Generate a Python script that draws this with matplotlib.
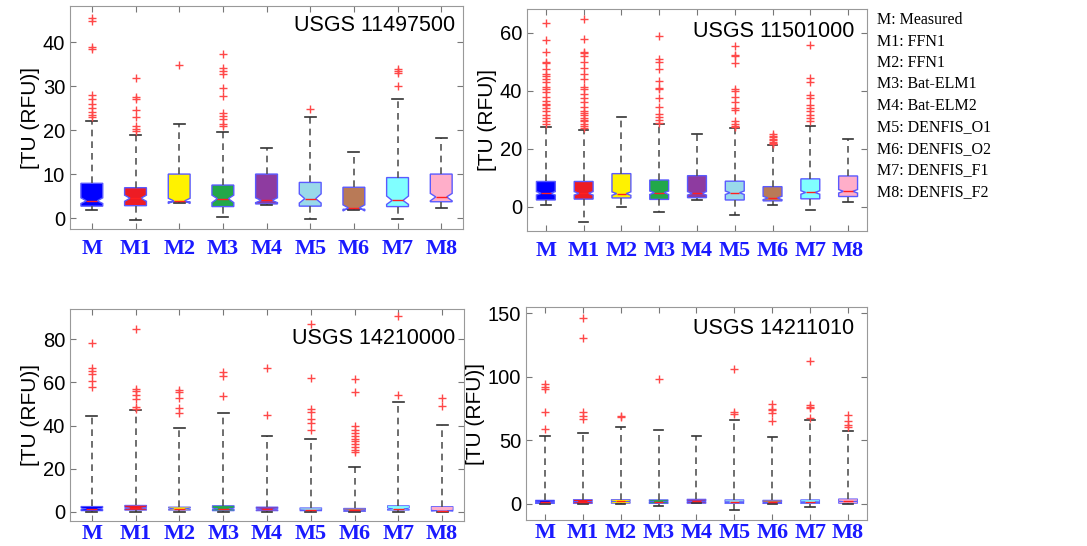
import matplotlib
matplotlib.use("Agg")
import matplotlib.pyplot as plt

# categories and styling
labels = ["M", "M1", "M2", "M3", "M4", "M5", "M6", "M7", "M8"]
box_colors = ["#0000ff", "#ed1c24", "#fff200", "#22a84a", "#8e3ba0",
              "#99d9ea", "#b97a57", "#80ffff", "#ffaec9"]
legend_lines = ["M: Measured", "M1: FFN1", "M2: FFN1", "M3: Bat-ELM1", "M4: Bat-ELM2",
                "M5: DENFIS_O1", "M6: DENFIS_O2", "M7: DENFIS_F1", "M8: DENFIS_F2"]
stations = ["USGS 11497500", "USGS 11501000", "USGS 14210000", "USGS 14211010"]

# ---- USGS 11497500 ----
p1_q1 = [2.7, 2.8, 3.7, 2.6, 3.2, 2.7, 2.0, 2.6, 3.7]
p1_med = [3.9, 4.5, 3.9, 4.4, 4.0, 4.4, 2.3, 4.0, 4.8]
p1_q3 = [7.9, 6.9, 10.0, 7.5, 10.0, 8.1, 7.0, 9.2, 10.0]
p1_lo = [1.8, -0.5, 3.5, 0.3, 3.0, -0.3, 1.9, -0.3, 2.2]
p1_hi = [22, 19, 21.3, 19.5, 16, 23, 15, 27, 18.3]
p1_cilo = [3.3, 3.8, 3.3, 3.5, 3.5, 3.4, 1.6, 3.1, 3.9]
p1_cihi = [4.6, 5.2, 4.5, 5.2, 4.6, 5.5, 3.0, 5.0, 5.6]
p1_fliers = [
    [23, 23.5, 24.2, 25, 26, 27, 28, 38.5, 39, 44.8, 45.5],
    [19.8, 20.2, 21, 23, 24.5, 27, 27.5, 31.8],
    [34.8],
    [21, 21.5, 22.5, 23.3, 23.8, 27.7, 29.7, 32.8, 33.5, 34.2, 37.3],
    [],
    [24.8],
    [],
    [30, 33, 33.5, 34],
    [],
]

# ---- USGS 11501000 ----
p2_q1 = [2.3, 2.6, 3.0, 2.5, 3.1, 2.3, 2.0, 2.7, 3.5]
p2_med = [4.6, 4.6, 4.5, 4.8, 4.6, 4.8, 3.0, 4.9, 5.3]
p2_q3 = [8.7, 8.7, 11.4, 9.2, 10.7, 8.8, 6.9, 9.6, 10.6]
p2_lo = [0.7, -5.2, 0.0, -2.0, 2.2, -3.0, 0.7, -1.0, 1.5]
p2_hi = [27.5, 26.5, 31, 28.5, 25, 27, 21.2, 28, 23.2]
p2_cilo = [4.0, 4.0, 3.9, 4.2, 4.0, 4.2, 2.4, 4.3, 4.7]
p2_cihi = [5.2, 5.2, 5.1, 5.4, 5.2, 5.4, 3.6, 5.5, 5.9]
p2_fliers = [
    [28.5, 29.5, 30.5, 31.5, 33, 34, 35, 35.5, 36.5, 38, 39.5, 40.5, 41.5, 43, 44,
     45, 46, 47.5, 49.5, 50, 53.5, 57.5, 63.5],
    [27, 28, 28.5, 29.5, 30, 30.5, 31.5, 32.5, 33, 34.5, 36, 37.5, 39, 40.5, 41.5,
     44, 46, 48, 50, 52, 53, 53.5, 58, 65],
    [],
    [29, 30, 31, 32, 34.5, 37.5, 40.5, 41, 43.5, 47.5, 50, 51, 59],
    [],
    [27.5, 28, 28.5, 29.5, 33.5, 34, 36, 38, 40, 40.5, 49.5, 52, 52.5, 55.5],
    [21.5, 22, 22.5, 23, 23.5, 24, 24.5, 25],
    [29.5, 30.5, 31.5, 33, 34, 35, 37.5, 38.5, 43, 44.5, 56],
    [],
]

# ---- USGS 14210000 ----
p3_q1 = [0.5, 0.8, 0.8, 0.5, 0.5, 0.5, 0.2, 0.8, 0.5]
p3_med = [1.5, 1.8, 1.5, 1.5, 1.3, 0.8, 0.8, 1.5, 0.6]
p3_q3 = [2.6, 3.1, 2.3, 2.9, 2.3, 1.9, 1.7, 2.9, 2.5]
p3_lo = [0.0, 0.0, 0.0, 0.0, 0.0, 0.0, 0.0, 0.0, 0.0]
p3_hi = [44.3, 47.2, 38.9, 45.7, 35.4, 33.8, 21, 51, 40.3]
p3_cilo = [1.2, 1.5, 1.2, 1.2, 1.0, 0.6, 0.6, 1.2, 0.4]
p3_cihi = [1.8, 2.1, 1.8, 1.8, 1.6, 1.0, 1.0, 1.8, 0.8]
p3_fliers = [
    [58, 60.8, 63.8, 65.4, 66.6, 78.2],
    [47.7, 48.5, 52.3, 54.2, 56.2, 57, 84.6],
    [45.8, 48, 52.6, 55.7, 56.5],
    [53.8, 63, 65],
    [45, 66.6],
    [38, 41.2, 43, 46.5, 47.7, 62.3, 86.9],
    [27.7, 28.9, 30, 31.5, 32.8, 33.8, 35.1, 36.6, 38.2, 39.7, 55.7, 61.8],
    [54.2, 91],
    [49.2, 52.6],
]

# ---- USGS 14211010 ----
p4_q1 = [0.3, 0.3, 0.5, 0.3, 0.5, 0.3, 0.3, 0.3, 0.5]
p4_med = [1.5, 1.8, 2.0, 1.8, 2.0, 1.5, 1.2, 1.5, 2.0]
p4_q3 = [3.0, 3.5, 3.5, 3.3, 3.8, 3.3, 3.0, 3.3, 4.0]
p4_lo = [0.0, 0.0, 0.0, -1.8, 0.5, -4.4, 0.0, -2.5, 0.0]
p4_hi = [53.5, 56.1, 60.8, 58.2, 53.5, 66, 53, 66, 57.4]
p4_cilo = [1.2, 1.5, 1.7, 1.5, 1.7, 1.2, 0.9, 1.2, 1.7]
p4_cihi = [1.8, 2.1, 2.3, 2.1, 2.3, 1.8, 1.5, 1.8, 2.3]
p4_fliers = [
    [58.7, 72.5, 90.3, 92, 93.9],
    [67, 69.5, 72, 130.4, 146.4],
    [68.1, 69.1],
    [97.8],
    [],
    [70.7, 72.5, 105.9],
    [65.2, 71.7, 73.8, 75, 78.3],
    [67.8, 75.1, 75.9, 77.7, 112.2],
    [60.8, 62.1, 65.5, 69.9],
]

panels = [
    (p1_q1, p1_med, p1_q3, p1_lo, p1_hi, p1_cilo, p1_cihi, p1_fliers),
    (p2_q1, p2_med, p2_q3, p2_lo, p2_hi, p2_cilo, p2_cihi, p2_fliers),
    (p3_q1, p3_med, p3_q3, p3_lo, p3_hi, p3_cilo, p3_cihi, p3_fliers),
    (p4_q1, p4_med, p4_q3, p4_lo, p4_hi, p4_cilo, p4_cihi, p4_fliers),
]

# layout in figure fractions
rects = [
    [0.0644, 0.5806, 0.3616, 0.408],
    [0.4848, 0.577, 0.3128, 0.4066],
    [0.0644, 0.0458, 0.3625, 0.388],
    [0.4839, 0.0476, 0.3137, 0.390],
]
ylims = [(-2.5, 48.2), (-8.4, 68.3), (-4.2, 94), (-12.6, 154.7)]
yticks = [[0, 10, 20, 30, 40], [0, 20, 40, 60], [0, 20, 40, 60, 80], [0, 50, 100, 150]]
title_pos = [(0.98, 0.915), (0.962, 0.90), (0.977, 0.863), (0.962, 0.90)]
xpads = [7, 7, 2, 2]

plt.rcParams["font.family"] = ["Liberation Sans", "DejaVu Sans"]

fig = plt.figure(figsize=(10.87, 5.46), dpi=100)

for i, (q1, med, q3, lo, hi, cilo, cihi, fl) in enumerate(panels):
    ax = fig.add_axes(rects[i])
    stats = []
    for k in range(len(labels)):
        stats.append({
            "label": labels[k], "q1": q1[k], "med": med[k], "q3": q3[k],
            "whislo": lo[k], "whishi": hi[k], "cilo": cilo[k], "cihi": cihi[k],
            "fliers": fl[k],
        })
    edge_w = 1.0 if i < 2 else 0.6
    bp = ax.bxp(stats, positions=range(1, 10), widths=0.5, shownotches=True,
                patch_artist=True, capwidths=0.25,
                boxprops=dict(edgecolor="#5a5aff", linewidth=edge_w),
                medianprops=dict(color="#ff2020", linewidth=1.0),
                whiskerprops=dict(color="#555555", linewidth=1.2, linestyle=(0, (4, 3))),
                capprops=dict(color="#333333", linewidth=1.2),
                flierprops=dict(marker="+", markeredgecolor="#ff4848", markersize=6,
                                markeredgewidth=1.0, linestyle="none"))
    for patch, c in zip(bp["boxes"], box_colors):
        patch.set_facecolor(c)

    ax.set_xlim(0.5, 9.5)
    ax.set_ylim(*ylims[i])
    ax.set_yticks(yticks[i])
    ax.set_xticks(range(1, 10))
    ax.set_xticklabels(labels, family=["Liberation Serif", "DejaVu Serif"],
                       fontweight="bold", fontsize=16, color="#1a1aff")
    ax.tick_params(axis="y", labelsize=14.5, direction="in", right=True, length=4,
                   color="#777777")
    ax.tick_params(axis="x", direction="in", top=True, length=4, color="#777777",
                   pad=xpads[i])
    for s in ax.spines.values():
        s.set_color("#999999")
    ax.set_ylabel("[TU (RFU)]", fontsize=15, labelpad=2)
    ax.text(title_pos[i][0], title_pos[i][1], stations[i], transform=ax.transAxes,
            ha="right", va="center", fontsize=15.5)

# model legend on the right
for j, line in enumerate(legend_lines):
    fig.text(0.807, 1 - (20 + j * 21.5) / 546, line, ha="left", va="center",
             family=["Liberation Serif", "DejaVu Serif"], fontsize=11.5)

fig.savefig("out.png", dpi=100)
